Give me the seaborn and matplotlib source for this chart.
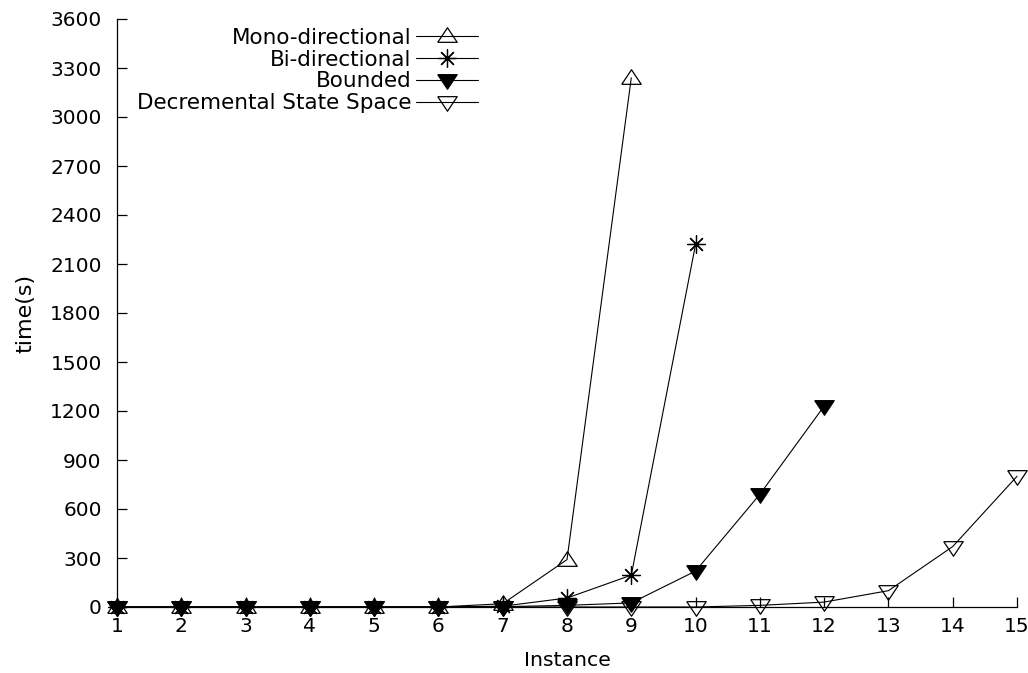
import matplotlib
matplotlib.use("Agg")
import matplotlib.pyplot as plt
import seaborn as sns
import pandas as pd

instances = list(range(1, 16))

mono_x = [1, 2, 3, 4, 5, 6, 7, 8, 9]
mono_y = [0, 0, 0, 0, 0, 0, 20, 290, 3240]

bi_x = [1, 2, 3, 4, 5, 6, 7, 8, 9, 10]
bi_y = [0, 0, 0, 0, 0, 0, 5, 55, 195, 2220]

bounded_x = [1, 2, 3, 4, 5, 6, 7, 8, 9, 10, 11, 12]
bounded_y = [0, 0, 0, 0, 0, 0, 2, 10, 25, 220, 690, 1230]

dss_x = [1, 2, 3, 4, 5, 6, 7, 8, 9, 10, 11, 12, 13, 14, 15]
dss_y = [0, 0, 0, 0, 0, 0, 0, 0, 0, 0, 10, 30, 100, 370, 800]

y_ticks = list(range(0, 3601, 300))

sns.set_style("ticks")
plt.rcParams['font.family'] = ['DejaVu Sans']
plt.rcParams['text.color'] = 'black'
plt.rcParams['axes.labelcolor'] = 'black'
plt.rcParams['xtick.color'] = 'black'
plt.rcParams['ytick.color'] = 'black'

fig = plt.figure(figsize=(10.28, 6.73), dpi=100)
ax = fig.add_axes([117 / 1028, 1 - 607 / 673, 900 / 1028, 588 / 673])

# closed triangles, wider than tall like gnuplot
up_tri = [(-1, -0.6), (1, -0.6), (0, 0.9), (-1, -0.6)]
down_tri = [(-1, 0.6), (1, 0.6), (0, -0.9), (-1, 0.6)]

series = [
    ("Mono-directional", mono_x, mono_y, up_tri, 'none', 14),
    ("Bi-directional", bi_x, bi_y, (8, 2, 0), 'black', 13),
    ("Bounded", bounded_x, bounded_y, down_tri, 'black', 14),
    ("Decremental State Space", dss_x, dss_y, down_tri, 'none', 14),
]

for name, xs, ys, mk, face, ms in series:
    df = pd.DataFrame({'Instance': xs, 'time': ys})
    sns.lineplot(data=df, x='Instance', y='time', ax=ax, color='black',
                 linewidth=0.8, marker=mk, markersize=ms,
                 markerfacecolor=face, markeredgecolor='black',
                 markeredgewidth=0.9, errorbar=None, label=name, clip_on=False)

ax.set_xlim(1, 15)
ax.set_ylim(0, 3600)
ax.set_xticks(instances)
ax.set_yticks(y_ticks)
ax.tick_params(direction='in', length=7, width=0.9, labelsize=14.5)
ax.tick_params(axis='y', pad=11)
ax.tick_params(axis='x', pad=7)
ax.set_xlabel('Instance', fontsize=14.7, labelpad=11)
ax.set_ylabel('time(s)', fontsize=16, labelpad=11)

for side in ['top', 'right']:
    ax.spines[side].set_visible(False)
for side in ['left', 'bottom']:
    ax.spines[side].set_color('black')
    ax.spines[side].set_linewidth(0.9)

leg = ax.legend(loc='upper right', bbox_to_anchor=(478 / 1028, 1 - 28 / 673),
                bbox_transform=fig.transFigure, frameon=False, markerfirst=False,
                fontsize=15.5, labelspacing=0.08, handlelength=2.9,
                handletextpad=0.2, borderpad=0, borderaxespad=0)

fig.savefig("out.png", dpi=100)
